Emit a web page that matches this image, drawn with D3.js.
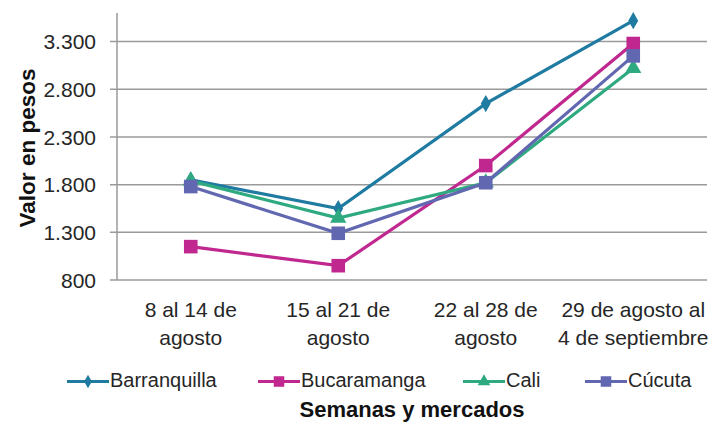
<!DOCTYPE html>
<html><head><meta charset="utf-8">
<script src="https://cdn.jsdelivr.net/npm/d3@7"></script>
<style>
html,body{margin:0;padding:0;background:#fff;}
svg{display:block;font-family:"Liberation Sans",Arial,sans-serif;}
</style></head>
<body>
<svg id="chart" width="720" height="424"></svg>
<script>
const categories = [["8 al 14 de","agosto"],["15 al 21 de","agosto"],["22 al 28 de","agosto"],["29 de agosto al","4 de septiembre"]];
const seriesNames = ["Barranquilla","Bucaramanga","Cali","Cúcuta"];
const barranquilla = [1850, 1550, 2650, 3520];
const bucaramanga = [1150, 950, 2000, 3280];
const cali = [1840, 1450, 1820, 3020];
const cucuta = [1780, 1290, 1820, 3150];
const yTicks = [800, 1300, 1800, 2300, 2800, 3300];
const colors = ["#1f7ba1","#c0288f","#2faa80","#6267b1"];
const shapes = ["diamond","square","triangle","square"];
const seriesValues = [barranquilla, bucaramanga, cali, cucuta];

const svg = d3.select("#chart");
const mLeft = 117, mRight = 707, mTop = 13, mBottom = 280;

const x = d3.scaleBand().domain(d3.range(categories.length)).range([mLeft, mRight]);
const y = d3.scaleLinear().domain([800, 3600]).range([mBottom, mTop]);

// gridlines
svg.append("g").selectAll("line").data(yTicks).join("line")
  .attr("x1", mLeft - 7).attr("x2", mRight)
  .attr("y1", d => y(d)).attr("y2", d => y(d))
  .attr("stroke", "#9a9a9a").attr("stroke-width", 1.5);

// y axis line
svg.append("line").attr("x1", mLeft).attr("x2", mLeft).attr("y1", mTop).attr("y2", mBottom)
  .attr("stroke", "#9a9a9a").attr("stroke-width", 1.5);

const fmt = d => d3.format(",")(d).replace(/,/g, ".");
svg.append("g").selectAll("text").data(yTicks).join("text")
  .attr("x", 96).attr("y", d => y(d)).attr("dy", "0.36em")
  .attr("text-anchor", "end").attr("font-size", 21).attr("fill", "#262626")
  .text(fmt);

// x labels
const xl = svg.append("g").selectAll("text").data(categories).join("text")
  .attr("text-anchor", "middle").attr("font-size", 21).attr("fill", "#262626");
xl.each(function(d, i){
  const t = d3.select(this);
  d.forEach((line, k) => {
    t.append("tspan").attr("x", x(i) + x.bandwidth()/2).attr("y", 317 + k*28).text(line);
  });
});

// y title
svg.append("text").attr("transform", "translate(35,148) rotate(-90)")
  .attr("text-anchor", "middle").attr("font-size", 22.5).attr("font-weight", "bold")
  .attr("fill", "#111")
  .text("Valor en pesos");

function markerPath(shape, size) {
  if (shape === "diamond") return d3.symbol(d3.symbolDiamond, size)();
  if (shape === "triangle") return d3.symbol(d3.symbolTriangle, size)();
  return d3.symbol(d3.symbolSquare, size)();
}
const markerSizes = {diamond: 85, square: 185, triangle: 115};

const line = d3.line().x((d, i) => x(i) + x.bandwidth()/2).y(d => y(d));
seriesValues.forEach((vals, s) => {
  const g = svg.append("g");
  g.append("path").datum(vals).attr("d", line).attr("fill", "none")
    .attr("stroke", colors[s]).attr("stroke-width", 3.2);
  g.selectAll("path.m").data(vals).join("path").attr("class", "m")
    .attr("transform", (d, i) => `translate(${x(i) + x.bandwidth()/2},${y(d)})`)
    .attr("d", markerPath(shapes[s], markerSizes[shapes[s]]))
    .attr("fill", colors[s]);
});

// legend
const legendX = [67, 258, 463, 585];
const lg = svg.append("g");
seriesNames.forEach((name, s) => {
  const lx = legendX[s], ly = 381.5;
  lg.append("line").attr("x1", lx).attr("x2", lx + 42).attr("y1", ly).attr("y2", ly)
    .attr("stroke", colors[s]).attr("stroke-width", 3.2);
  lg.append("path").attr("transform", `translate(${lx + 21},${ly})`)
    .attr("d", markerPath(shapes[s], markerSizes[shapes[s]] * 0.6)).attr("fill", colors[s]);
  lg.append("text").attr("x", lx + 43).attr("y", 387)
    .attr("font-size", 20).attr("fill", "#262626").text(name);
});

svg.append("text").attr("x", 412).attr("y", 417)
  .attr("text-anchor", "middle").attr("font-size", 22).attr("font-weight", "bold")
  .attr("fill", "#111")
  .text("Semanas y mercados");
</script>
</body></html>
